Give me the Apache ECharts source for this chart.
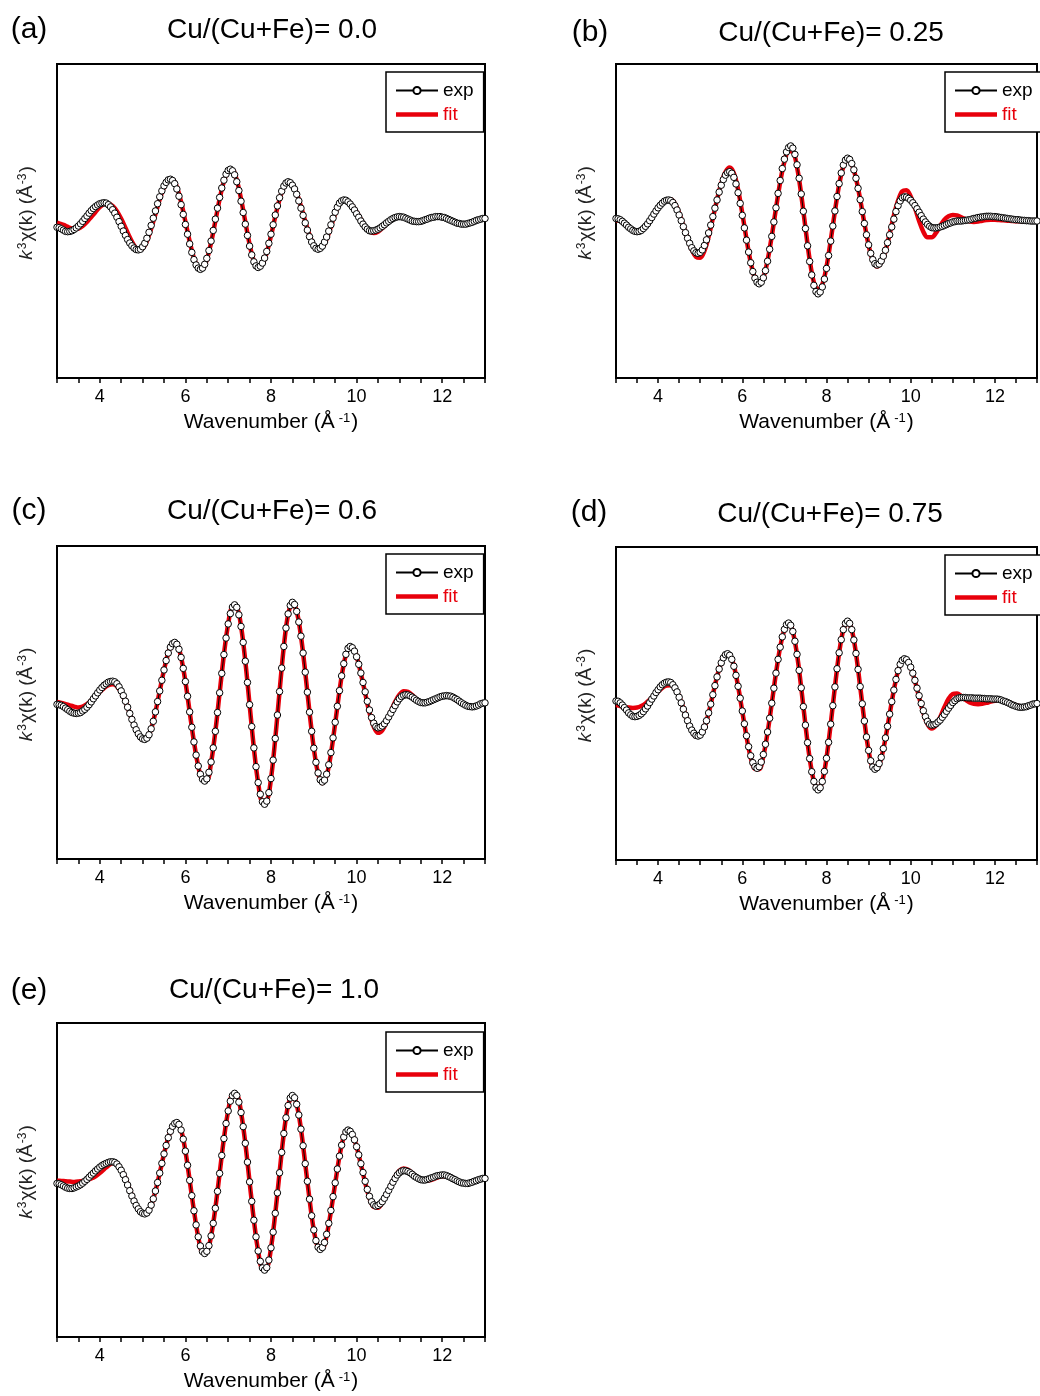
<!DOCTYPE html>
<html>
<head>
<meta charset="utf-8">
<script src="https://cdn.jsdelivr.net/npm/echarts@6/dist/echarts.min.js"></script>
<style>html,body{margin:0;padding:0;background:#fff}#chart{width:1040px;height:1396px}</style>
</head>
<body>
<div id="chart"></div>
<script>
// ---------------- DATA ----------------
const panelLetters = ['(a)', '(b)', '(c)', '(d)', '(e)'];
const panelTitles = ['Cu/(Cu+Fe)= 0.0', 'Cu/(Cu+Fe)= 0.25', 'Cu/(Cu+Fe)= 0.6', 'Cu/(Cu+Fe)= 0.75', 'Cu/(Cu+Fe)= 1.0'];
const xTickLabels = [4, 6, 8, 10, 12];
const kStart = 3, kEnd = 13;
const expStep = 0.05;   // k spacing of the experimental points
const fitStep = 0.1;    // k spacing of the fit curve samples

const expA = [-0.20,-0.21,-0.25,-0.29,-0.33,-0.34,
-0.33,-0.31,-0.27,-0.22,-0.16,-0.09,-0.01,0.08,0.16,0.25,0.33,0.40,0.46,0.51,0.55,0.57,0.58,
0.57,0.52,0.45,0.36,0.25,0.12,-0.02,-0.17,-0.32,-0.46,-0.59,-0.70,-0.79,-0.86,-0.91,-0.92,
-0.90,-0.82,-0.71,-0.55,-0.36,-0.14,0.09,0.32,0.55,0.77,0.96,1.12,1.23,1.31,1.33,
1.29,1.19,1.02,0.79,0.52,0.21,-0.11,-0.42,-0.73,-1.00,-1.23,-1.40,-1.50,-1.54,
-1.50,-1.38,-1.19,-0.94,-0.64,-0.30,0.06,0.41,0.75,1.05,1.30,1.49,1.61,1.65,
1.60,1.47,1.25,0.97,0.63,0.27,-0.10,-0.46,-0.80,-1.08,-1.30,-1.43,-1.48,
-1.44,-1.34,-1.18,-0.97,-0.71,-0.42,-0.12,0.19,0.48,0.74,0.95,1.11,1.21,1.25,
1.22,1.14,1.02,0.85,0.64,0.41,0.18,-0.06,-0.29,-0.50,-0.67,-0.79,-0.87,-0.90,
-0.87,-0.80,-0.67,-0.51,-0.32,-0.12,0.09,0.28,0.44,0.57,0.64,0.67,
0.66,0.61,0.54,0.45,0.35,0.23,0.12,0.00,-0.10,-0.19,-0.26,-0.31,-0.32,
-0.31,-0.29,-0.26,-0.22,-0.17,-0.12,-0.06,-0.01,0.04,0.08,0.11,0.13,0.14,
0.13,0.12,0.09,0.06,0.03,0.00,-0.01,-0.02,
-0.02,-0.01,0.01,0.04,0.06,0.09,0.11,0.12,0.14,0.14,
0.14,0.12,0.11,0.08,0.05,0.02,-0.01,-0.04,-0.07,-0.08,-0.10,-0.10,
-0.10,-0.08,-0.06,-0.04,-0.01,0.02,0.04,0.06,0.08,0.08];

const fitA = [-0.05,-0.10,-0.15,-0.22,-0.26,-0.24,-0.16,-0.03,0.13,0.29,
0.44,0.54,0.56,0.48,0.31,0.07,-0.22,-0.52,-0.77,-0.91,
-0.88,-0.64,-0.24,0.22,0.69,1.07,1.29,1.31,1.08,0.60,
-0.02,-0.65,-1.18,-1.48,-1.51,-1.23,-0.69,0.00,0.70,1.26,
1.59,1.62,1.30,0.70,-0.03,-0.74,-1.27,-1.48,-1.37,-1.01,
-0.47,0.14,0.69,1.08,1.24,1.16,0.89,0.47,-0.01,-0.45,
-0.77,-0.91,-0.84,-0.57,-0.18,0.23,0.54,0.68,0.64,0.50,
0.29,0.05,-0.17,-0.33,-0.38,-0.34,-0.23,-0.10,0.02,0.10,
0.14,0.13,0.08,0.03,0.00,0.00,0.03,0.07,0.10,0.12,
0.11,0.08,0.03,-0.03,-0.07,-0.09,-0.07,-0.03,0.01,0.05,
0.07];

const expB = [0.08,0.07,0.04,-0.01,-0.07,-0.13,-0.20,-0.25,-0.30,-0.33,-0.34,
-0.33,-0.30,-0.24,-0.17,-0.09,0.01,0.11,0.22,0.32,0.42,0.50,0.57,0.63,0.66,0.67,
0.65,0.59,0.49,0.35,0.19,0.01,-0.18,-0.37,-0.55,-0.71,-0.85,-0.95,-1.01,-1.03,
-1.00,-0.92,-0.78,-0.60,-0.38,-0.13,0.14,0.41,0.67,0.92,1.14,1.32,1.46,1.54,1.57,
1.52,1.39,1.18,0.90,0.56,0.18,-0.22,-0.61,-0.99,-1.33,-1.61,-1.82,-1.95,-2.00,
-1.95,-1.81,-1.58,-1.28,-0.90,-0.49,-0.03,0.42,0.88,1.29,1.67,1.97,2.20,2.34,2.39,
2.32,2.12,1.79,1.36,0.86,0.31,-0.24,-0.79,-1.29,-1.72,-2.05,-2.25,-2.32,
-2.26,-2.10,-1.85,-1.51,-1.10,-0.64,-0.16,0.32,0.78,1.19,1.53,1.78,1.94,2.00,
1.96,1.83,1.63,1.36,1.04,0.68,0.30,-0.08,-0.44,-0.76,-1.03,-1.23,-1.36,-1.40,
-1.37,-1.27,-1.12,-0.93,-0.69,-0.44,-0.19,0.06,0.30,0.49,0.64,0.74,0.77,
0.76,0.72,0.66,0.58,0.49,0.39,0.28,0.17,0.06,-0.03,-0.11,-0.17,-0.21,-0.22,
-0.22,-0.21,-0.19,-0.17,-0.14,-0.11,-0.08,-0.06,-0.03,-0.02,0.00,0.00,
0.00,0.01,0.02,0.03,0.04,0.06,0.08,0.09,0.11,0.12,0.13,0.14,0.15,0.15,
0.15,0.14,0.14,0.13,0.12,0.11,0.10,0.09,0.08,0.07,0.06,0.05,0.04,0.04,0.03,0.02,0.02,0.01,0.01,0.00,0.00,0.00,0.00];

const fitB = [0.02,0.00,-0.08,-0.19,-0.29,-0.33,-0.30,-0.18,0.00,0.20,
0.40,0.56,0.67,0.69,0.55,0.25,-0.15,-0.56,-0.92,-1.14,
-1.17,-0.95,-0.50,0.08,0.68,1.20,1.56,1.70,1.52,1.00,
0.24,-0.58,-1.32,-1.82,-2.00,-1.80,-1.26,-0.48,0.40,1.24,
1.88,2.22,2.20,1.72,0.84,-0.22,-1.23,-1.95,-2.20,-2.02,
-1.46,-0.62,0.31,1.15,1.73,1.94,1.80,1.36,0.69,-0.07,
-0.77,-1.26,-1.45,-1.32,-0.95,-0.41,0.17,0.65,0.95,0.98,
0.78,0.42,0.00,-0.34,-0.52,-0.52,-0.38,-0.16,0.04,0.15,
0.19,0.18,0.12,0.05,-0.01,-0.03,-0.02,0.01,0.03,0.04,
0.04,0.03,0.02,0.01,0.00,-0.01,-0.01,0.00,0.00,0.00,
0.00];

const expC = [-0.06,-0.07,-0.09,-0.13,-0.18,-0.23,-0.28,-0.32,-0.34,-0.35,
-0.34,-0.32,-0.27,-0.22,-0.15,-0.07,0.02,0.12,0.21,0.31,0.40,0.48,0.55,0.60,0.65,0.67,0.68,
0.66,0.60,0.50,0.37,0.22,0.04,-0.15,-0.35,-0.54,-0.72,-0.87,-1.00,-1.10,-1.16,-1.18,
-1.14,-1.03,-0.84,-0.60,-0.30,0.03,0.37,0.71,1.04,1.34,1.58,1.77,1.88,1.92,
1.86,1.70,1.44,1.09,0.67,0.20,-0.30,-0.79,-1.26,-1.68,-2.03,-2.29,-2.45,-2.51,
-2.44,-2.23,-1.90,-1.45,-0.92,-0.32,0.31,0.93,1.53,2.06,2.51,2.84,3.05,3.12,
3.04,2.80,2.43,1.92,1.32,0.64,-0.07,-0.77,-1.45,-2.05,-2.56,-2.93,-3.17,-3.25,
-3.15,-2.88,-2.43,-1.84,-1.15,-0.40,0.35,1.10,1.79,2.38,2.83,3.10,3.20,
3.13,2.91,2.57,2.12,1.58,0.97,0.33,-0.31,-0.92,-1.46,-1.91,-2.25,-2.47,-2.54,
-2.48,-2.29,-1.99,-1.60,-1.13,-0.63,-0.12,0.38,0.85,1.24,1.54,1.73,1.79,
1.75,1.64,1.46,1.22,0.94,0.64,0.34,0.04,-0.24,-0.48,-0.66,-0.77,-0.81,
-0.79,-0.75,-0.68,-0.58,-0.46,-0.34,-0.22,-0.10,0.02,0.12,0.19,0.23,0.25,
0.24,0.21,0.17,0.12,0.07,0.03,0.00,-0.01,
-0.01,0.01,0.03,0.06,0.09,0.12,0.15,0.18,0.20,0.21,0.22,
0.21,0.20,0.17,0.13,0.09,0.04,-0.01,-0.05,-0.09,-0.12,-0.13,-0.14,
-0.13,-0.11,-0.08,-0.04,-0.02,-0.01];

const fitC = [0.02,-0.01,-0.05,-0.09,-0.13,-0.16,-0.13,-0.05,0.07,0.20,
0.34,0.46,0.55,0.58,0.52,0.33,0.03,-0.35,-0.73,-1.02,
-1.18,-1.14,-0.84,-0.30,0.37,1.04,1.58,1.88,1.86,1.44,
0.67,-0.30,-1.26,-2.03,-2.47,-2.48,-1.92,-0.92,0.31,1.53,
2.51,3.03,3.02,2.43,1.32,-0.07,-1.45,-2.56,-3.15,-3.13,
-2.43,-1.15,0.35,1.79,2.81,3.17,2.91,2.12,0.97,-0.31,
-1.46,-2.27,-2.58,-2.33,-1.64,-0.66,0.37,1.22,1.71,1.76,
1.47,0.93,0.30,-0.32,-0.77,-0.97,-0.89,-0.62,-0.29,0.02,
0.25,0.36,0.34,0.24,0.10,0.01,-0.01,0.03,0.09,0.15,
0.19,0.20,0.17,0.10,0.01,-0.07,-0.13,-0.15,-0.12,-0.06,
-0.01];

const expD = [0.08,0.07,0.02,-0.05,-0.13,-0.21,-0.30,-0.36,-0.41,-0.42,
-0.41,-0.38,-0.33,-0.26,-0.17,-0.08,0.03,0.14,0.24,0.35,0.44,0.53,0.60,0.65,0.68,0.69,
0.67,0.60,0.50,0.37,0.20,0.02,-0.18,-0.37,-0.55,-0.72,-0.85,-0.95,-1.02,-1.04,
-1.01,-0.91,-0.75,-0.55,-0.30,-0.02,0.28,0.57,0.85,1.10,1.30,1.46,1.56,1.59,
1.54,1.41,1.19,0.90,0.55,0.17,-0.24,-0.65,-1.03,-1.38,-1.67,-1.89,-2.02,-2.07,
-2.02,-1.87,-1.63,-1.30,-0.91,-0.47,0.01,0.49,0.97,1.41,1.80,2.13,2.37,2.52,2.57,
2.50,2.30,1.99,1.57,1.06,0.50,-0.10,-0.69,-1.25,-1.76,-2.18,-2.49,-2.69,-2.76,
-2.69,-2.49,-2.17,-1.75,-1.24,-0.66,-0.07,0.53,1.11,1.62,2.04,2.36,2.56,2.63,
2.56,2.36,2.03,1.60,1.09,0.54,-0.01,-0.56,-1.07,-1.50,-1.83,-2.03,-2.10,
-2.05,-1.92,-1.72,-1.44,-1.10,-0.73,-0.34,0.06,0.43,0.77,1.05,1.25,1.38,1.43,
1.40,1.31,1.16,0.97,0.74,0.49,0.25,0.00,-0.23,-0.42,-0.57,-0.66,-0.69,
-0.68,-0.65,-0.59,-0.53,-0.44,-0.35,-0.25,-0.15,-0.06,0.03,0.09,0.15,0.18,0.19,
0.19,0.19,0.18,0.18,0.18,0.17,0.17,0.17,0.17,0.16,0.16,0.15,0.15,0.15,0.14,0.14,
0.14,0.13,0.11,0.08,0.06,0.03,0.00,-0.04,-0.06,-0.09,-0.11,-0.12,-0.12,
-0.11,-0.10,-0.07,-0.05,-0.02,-0.01,0.00];

const fitD = [-0.05,-0.08,-0.11,-0.13,-0.14,-0.13,-0.08,0.00,0.12,0.25,
0.38,0.50,0.57,0.58,0.48,0.23,-0.15,-0.55,-0.87,-1.05,
-1.03,-0.77,-0.31,0.28,0.86,1.31,1.58,1.56,1.20,0.55,
-0.25,-1.06,-1.72,-2.09,-2.10,-1.68,-0.93,0.00,0.97,1.80,
2.36,2.56,2.29,1.56,0.50,-0.69,-1.75,-2.48,-2.74,-2.48,
-1.74,-0.66,0.53,1.61,2.35,2.61,2.35,1.60,0.54,-0.56,
-1.50,-2.04,-2.07,-1.74,-1.12,-0.35,0.43,1.04,1.38,1.41,
1.16,0.72,0.20,-0.30,-0.66,-0.80,-0.70,-0.44,-0.12,0.15,
0.30,0.32,0.24,0.12,0.03,-0.01,-0.02,-0.01,0.02,0.06,
0.09,0.10,0.09,0.05,0.00,-0.05,-0.09,-0.10,-0.08,-0.04,
-0.01];

const expE = [-0.11,-0.12,-0.15,-0.19,-0.23,-0.26,-0.27,
-0.27,-0.25,-0.22,-0.19,-0.15,-0.10,-0.04,0.02,0.09,0.16,0.22,0.29,0.35,0.41,0.46,0.50,0.53,0.56,0.58,0.58,
0.56,0.51,0.42,0.31,0.17,0.01,-0.16,-0.34,-0.51,-0.67,-0.81,-0.92,-1.01,-1.06,-1.08,
-1.05,-0.96,-0.80,-0.60,-0.35,-0.08,0.22,0.53,0.83,1.10,1.35,1.55,1.71,1.80,1.83,
1.77,1.59,1.30,0.92,0.47,-0.01,-0.50,-0.98,-1.43,-1.81,-2.10,-2.28,-2.34,
-2.27,-2.09,-1.78,-1.38,-0.90,-0.36,0.21,0.78,1.32,1.80,2.20,2.51,2.69,2.76,
2.69,2.48,2.15,1.70,1.17,0.57,-0.06,-0.68,-1.28,-1.81,-2.26,-2.59,-2.80,-2.87,
-2.79,-2.55,-2.16,-1.66,-1.06,-0.41,0.23,0.88,1.48,1.98,2.37,2.61,2.69,
2.62,2.41,2.07,1.62,1.09,0.52,-0.04,-0.61,-1.14,-1.59,-1.93,-2.14,-2.21,
-2.15,-1.99,-1.73,-1.38,-0.97,-0.53,-0.09,0.35,0.76,1.11,1.37,1.53,1.59,
1.55,1.45,1.28,1.06,0.80,0.52,0.24,-0.04,-0.30,-0.52,-0.69,-0.79,-0.83,
-0.81,-0.76,-0.69,-0.58,-0.46,-0.33,-0.20,-0.07,0.05,0.16,0.23,0.28,0.30,
0.29,0.27,0.23,0.18,0.12,0.08,0.04,0.01,0.00,
0.00,0.02,0.04,0.07,0.09,0.12,0.14,0.15,0.16,
0.16,0.14,0.11,0.08,0.04,0.01,-0.03,-0.06,-0.09,-0.10,-0.11,
-0.11,-0.09,-0.07,-0.04,-0.02,0.01,0.03,0.05,0.05];

const fitE = [-0.02,-0.03,-0.04,-0.05,-0.06,-0.05,-0.03,0.00,0.05,0.12,
0.22,0.34,0.46,0.53,0.50,0.34,0.05,-0.31,-0.66,-0.93,
-1.08,-1.06,-0.81,-0.35,0.22,0.83,1.35,1.71,1.83,1.59,
0.92,-0.01,-0.98,-1.81,-2.28,-2.27,-1.78,-0.90,0.21,1.32,
2.20,2.69,2.69,2.15,1.17,-0.06,-1.28,-2.26,-2.80,-2.79,
-2.16,-1.06,0.23,1.48,2.37,2.69,2.41,1.62,0.52,-0.61,
-1.59,-2.14,-2.17,-1.76,-1.00,-0.11,0.75,1.37,1.60,1.46,
1.06,0.50,-0.08,-0.57,-0.86,-0.88,-0.72,-0.46,-0.17,0.10,
0.30,0.37,0.33,0.22,0.10,0.02,-0.02,-0.01,0.03,0.08,
0.12,0.12,0.08,0.02,-0.05,-0.09,-0.10,-0.07,-0.02,0.03,
0.05];

const expSets = [expA, expB, expC, expD, expE];
const fitSets = [fitA, fitB, fitC, fitD, fitE];

// ---------------- LAYOUT ----------------
const FONT = "'Liberation Sans', Arial, sans-serif";
const RED = '#e8000b';
const grids = [
  {left: 57, top: 64, width: 428, height: 314},
  {left: 616, top: 64, width: 428, height: 314},
  {left: 57, top: 546, width: 428, height: 313},
  {left: 616, top: 547, width: 428, height: 313},
  {left: 57, top: 1023, width: 428, height: 314}
];
const titlePos = [[272, 30], [831, 33], [272, 511], [830, 514], [274, 990]];
const letterPos = [[29, 30], [590, 33], [29, 511], [589, 513], [29, 991]];
const legendPos = [[386, 72], [945, 72], [386, 554], [945, 555], [386, 1032]];

function toPairs(arr, step) {
  return arr.map((v, i) => [+(kStart + i * step).toFixed(2), v]);
}

const option = {
  animation: false,
  backgroundColor: '#fff',
  title: [
    ...panelTitles.map((t, i) => ({
      text: t, left: titlePos[i][0], top: titlePos[i][1], padding: 0,
      textAlign: 'center', textVerticalAlign: 'middle',
      textStyle: {fontSize: 28, fontWeight: 'normal', color: '#000', fontFamily: FONT}
    })),
    ...panelLetters.map((t, i) => ({
      text: t, left: letterPos[i][0], top: letterPos[i][1], padding: 0,
      textAlign: 'center', textVerticalAlign: 'middle',
      textStyle: {fontSize: 30, fontWeight: 'normal', color: '#000', fontFamily: FONT}
    }))
  ],
  legend: legendPos.map((p) => ({
    left: p[0], top: p[1], orient: 'vertical',
    borderColor: '#000', borderWidth: 1.5, backgroundColor: '#fff',
    padding: [9, 10, 8, 9], itemGap: 5, itemWidth: 42, itemHeight: 9,
    selectedMode: false, symbolKeepAspect: true,
    textStyle: {fontSize: 19, color: '#000', fontFamily: FONT},
    data: [
      {name: 'exp'},
      {name: 'fit', icon: 'path://M0 0H42V4.5H0Z', textStyle: {color: RED}}
    ]
  })),
  grid: grids.map(g => Object.assign({show: true, borderColor: '#000', borderWidth: 2, backgroundColor: 'transparent', containLabel: false}, g)),
  xAxis: grids.map((g, i) => ({
    gridIndex: i, type: 'value', min: kStart, max: kEnd, interval: 0.5,
    axisLine: {show: true, onZero: false, lineStyle: {color: '#000', width: 2}},
    axisTick: {show: true, inside: false, length: 5, lineStyle: {color: '#000', width: 1.5}},
    axisLabel: {margin: 10, fontSize: 18, color: '#000', fontFamily: FONT,
      formatter: v => (xTickLabels.indexOf(Math.round(v * 100) / 100) >= 0 ? String(Math.round(v)) : '')},
    splitLine: {show: false},
    name: 'Wavenumber (Å{sup|-1})', nameLocation: 'middle', nameGap: 34,
    nameTextStyle: {fontSize: 21, color: '#000', fontFamily: FONT,
      rich: {sup: {fontSize: 13, color: '#000', fontFamily: FONT, verticalAlign: 'top', padding: [0, 1, 0, 4]}}}
  })),
  yAxis: grids.map((g, i) => ({
    gridIndex: i, type: 'value', min: -5, max: 5,
    axisLine: {show: false}, axisTick: {show: false}, axisLabel: {show: false}, splitLine: {show: false},
    name: '{it|k}{sup|3}χ(k) (Å{sup|-3})', nameLocation: 'middle', nameGap: 21, nameRotate: 90,
    nameTextStyle: {fontSize: 19, color: '#222', fontFamily: FONT, padding: [0, 0, 0, 16],
      rich: {
        it: {fontSize: 19, fontStyle: 'italic', color: '#222', fontFamily: FONT},
        sup: {fontSize: 12, color: '#222', fontFamily: FONT, verticalAlign: 'top', padding: [0, 1, 0, 1]}
      }}
  })),
  series: []
};

for (let i = 0; i < 5; i++) {
  option.series.push({
    name: 'fit', type: 'line', xAxisIndex: i, yAxisIndex: i,
    data: toPairs(fitSets[i], fitStep), smooth: 0.35,
    symbol: 'none', showSymbol: false,
    lineStyle: {color: RED, width: 4.5}, itemStyle: {color: RED}, z: 2
  });
  option.series.push({
    name: 'exp', type: 'line', xAxisIndex: i, yAxisIndex: i,
    data: toPairs(expSets[i], expStep),
    symbol: 'circle', symbolSize: 6.5, showSymbol: true, showAllSymbol: true,
    lineStyle: {color: '#000', width: 1},
    itemStyle: {color: '#fff', borderColor: '#000', borderWidth: 1}, z: 3
  });
}

const chart = echarts.init(document.getElementById('chart'), null, {renderer: 'canvas'});
chart.setOption(option);
</script>
</body>
</html>
